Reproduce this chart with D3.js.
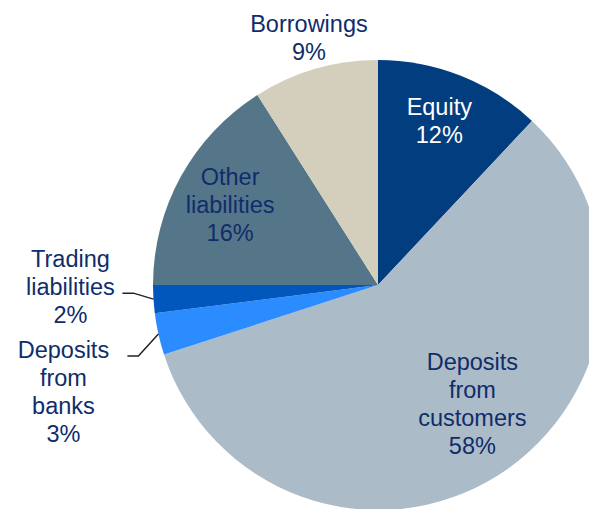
<!DOCTYPE html>
<html>
<head>
<meta charset="utf-8">
<script src="https://cdn.jsdelivr.net/npm/d3@7"></script>
<style>
  html, body { margin: 0; padding: 0; background: #fff; }
  svg { display: block; font-family: Arial, "Liberation Sans", sans-serif; }
</style>
</head>
<body>
<div id="app"></div>
<script>
const names = ['Equity', 'Deposits from customers', 'Deposits from banks', 'Trading liabilities', 'Other liabilities', 'Borrowings']
const values = [12, 58, 3, 2, 16, 9]
const colors = ['#023d7f', '#abbbc7', '#2b8cff', '#0157bc', '#557689', '#d4cfbc']
const labelLines = [
  ['Equity', '12%'],
  ['Deposits', 'from', 'customers', '58%'],
  ['Deposits', 'from', 'banks', '3%'],
  ['Trading', 'liabilities', '2%'],
  ['Other', 'liabilities', '16%'],
  ['Borrowings', '9%'],
]

const width = 589, height = 509
const cx = 378, cy = 285, radius = 225
const lineH = 28
const textColor = '#0f2d6b'

const svg = d3.select('#app').append('svg')
  .attr('width', width).attr('height', height)

const pie = d3.pie().sort(null).value((d) => d)
const arcs = pie(values)
const arc = d3.arc().innerRadius(0).outerRadius(radius)

const g = svg.append('g').attr('transform', `translate(${cx},${cy})`)

g.selectAll('path')
  .data(arcs)
  .join('path')
  .attr('d', arc)
  .attr('fill', (d, i) => colors[i])

// label placement: inside for big slices, outside for the rest
const labelR = [0.74, 0.7, null, null, 0.75, 1.1]
const nudge = [[0, -9], [10, -14], [0, -4], [0, -6], [0, 1], [0, -10]]
function polar(a, r) {
  return [Math.sin(a) * r, -Math.cos(a) * r]
}

arcs.forEach((d, i) => {
  const mid = (d.startAngle + d.endAngle) / 2
  let x, y
  if (labelR[i] !== null) {
    ;[x, y] = polar(mid, radius * labelR[i])
  } else {
    // leader line to the left
    const [px, py] = polar(mid, radius)
    const elbowY = i === 2 ? py + 22 : py - 6
    const elbowX = px - 20
    const endX = elbowX - 11
    g.append('path')
      .attr('d', `M${px},${py}L${elbowX},${elbowY}L${endX},${elbowY}`)
      .attr('fill', 'none')
      .attr('stroke', '#222')
      .attr('stroke-width', 1.5)
    x = endX - 52 + (i === 2 ? -12 : 0)
    y = elbowY + (i === 2 ? (labelLines[i].length - 1) * lineH / 2 - 2 : 0)
  }
  x += nudge[i][0]
  y += nudge[i][1]
  const lines = labelLines[i]
  const t = g.append('text')
    .attr('text-anchor', 'middle')
    .attr('font-size', 23.5)
    .attr('fill', i === 0 ? '#ffffff' : textColor)
  lines.forEach((s, k) => {
    t.append('tspan')
      .attr('x', x)
      .attr('y', y + (k - (lines.length - 1) / 2) * lineH)
      .attr('dy', '0.35em')
      .text(s)
  })
})
</script>
</body>
</html>
